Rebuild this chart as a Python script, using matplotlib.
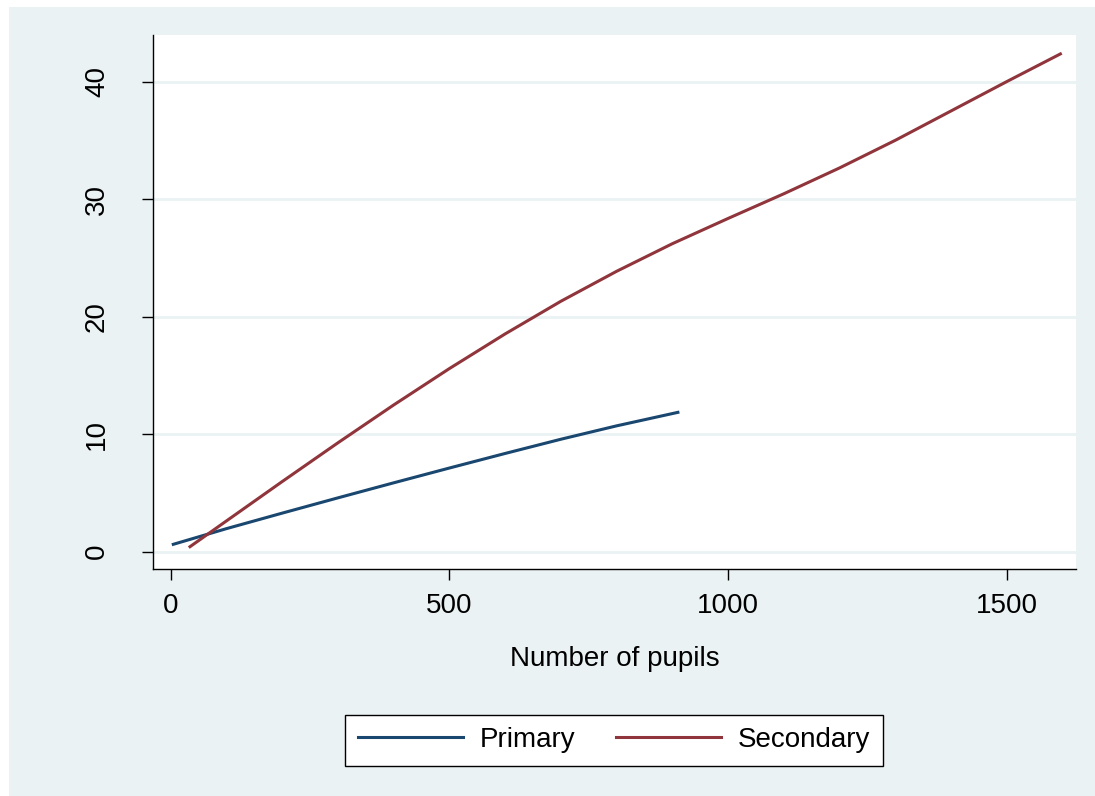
import matplotlib
matplotlib.use("Agg")
from matplotlib import pyplot as plt
from matplotlib.patches import Rectangle

# data
primary_x = [5, 100, 200, 300, 400, 500, 600, 700, 800, 910]
primary_y = [0.63, 1.96, 3.28, 4.58, 5.86, 7.12, 8.36, 9.57, 10.71, 11.86]
secondary_x = [35, 100, 200, 300, 400, 500, 600, 700, 800, 900, 1000,
               1100, 1200, 1300, 1400, 1500, 1596]
secondary_y = [0.43, 2.61, 5.96, 9.26, 12.48, 15.58, 18.53, 21.31, 23.86, 26.21, 28.36,
               30.46, 32.66, 35.01, 37.51, 40.01, 42.36]
x_ticks = [0, 500, 1000, 1500]
y_ticks = [0, 10, 20, 30, 40]

plt.rcParams['font.family'] = ['Liberation Sans', 'DejaVu Sans']

bg = "#EAF2F3"
navy = "#1A476F"
maroon = "#90353B"

fig = plt.figure(figsize=(10.95, 7.96), dpi=100, facecolor=bg)
# thin white strips along the top and left edge
fig.patches.append(Rectangle((0, 0), 9 / 1095, 1, transform=fig.transFigure,
                             facecolor="white", edgecolor="none", zorder=-10))
fig.patches.append(Rectangle((0, 1 - 7 / 796), 1, 7 / 796, transform=fig.transFigure,
                             facecolor="white", edgecolor="none", zorder=-10))

ax = fig.add_axes([153 / 1095, 1 - 569 / 796, (1076 - 153) / 1095, (569 - 35) / 796])
ax.set_facecolor("white")

ax.plot(primary_x, primary_y, color=navy, lw=2.2, label="Primary")
ax.plot(secondary_x, secondary_y, color=maroon, lw=2.2, label="Secondary")

ax.set_xlim(-31.4, 1624)
ax.set_ylim(-1.47, 43.97)
ax.set_xticks(x_ticks)
ax.set_yticks(y_ticks)
ax.grid(axis="y", color=bg, lw=2)
ax.set_axisbelow(True)

for s in ["top", "right"]:
    ax.spines[s].set_visible(False)
ax.spines["left"].set_linewidth(1)
ax.spines["bottom"].set_linewidth(1)

ax.tick_params(axis="x", length=8, width=1, labelsize=20, pad=9)
ax.tick_params(axis="y", length=8, width=1, labelsize=20, pad=23)
for lab in ax.get_yticklabels():
    lab.set_rotation(90)
    lab.set_va("center")

ax.set_xlabel("Number of pupils", fontsize=20, labelpad=20)

leg = fig.legend(loc="center", bbox_to_anchor=(614 / 1095, 1 - 740 / 796), ncol=2,
                 frameon=True, fancybox=False, edgecolor="black", fontsize=20,
                 handlelength=3.8, handletextpad=0.6, columnspacing=1.45,
                 borderpad=0.45, borderaxespad=0)
leg.get_frame().set_linewidth(1)
leg.get_frame().set_facecolor("white")
leg.get_frame().set_alpha(1)

fig.savefig("out.png", dpi=100, facecolor=fig.get_facecolor())
